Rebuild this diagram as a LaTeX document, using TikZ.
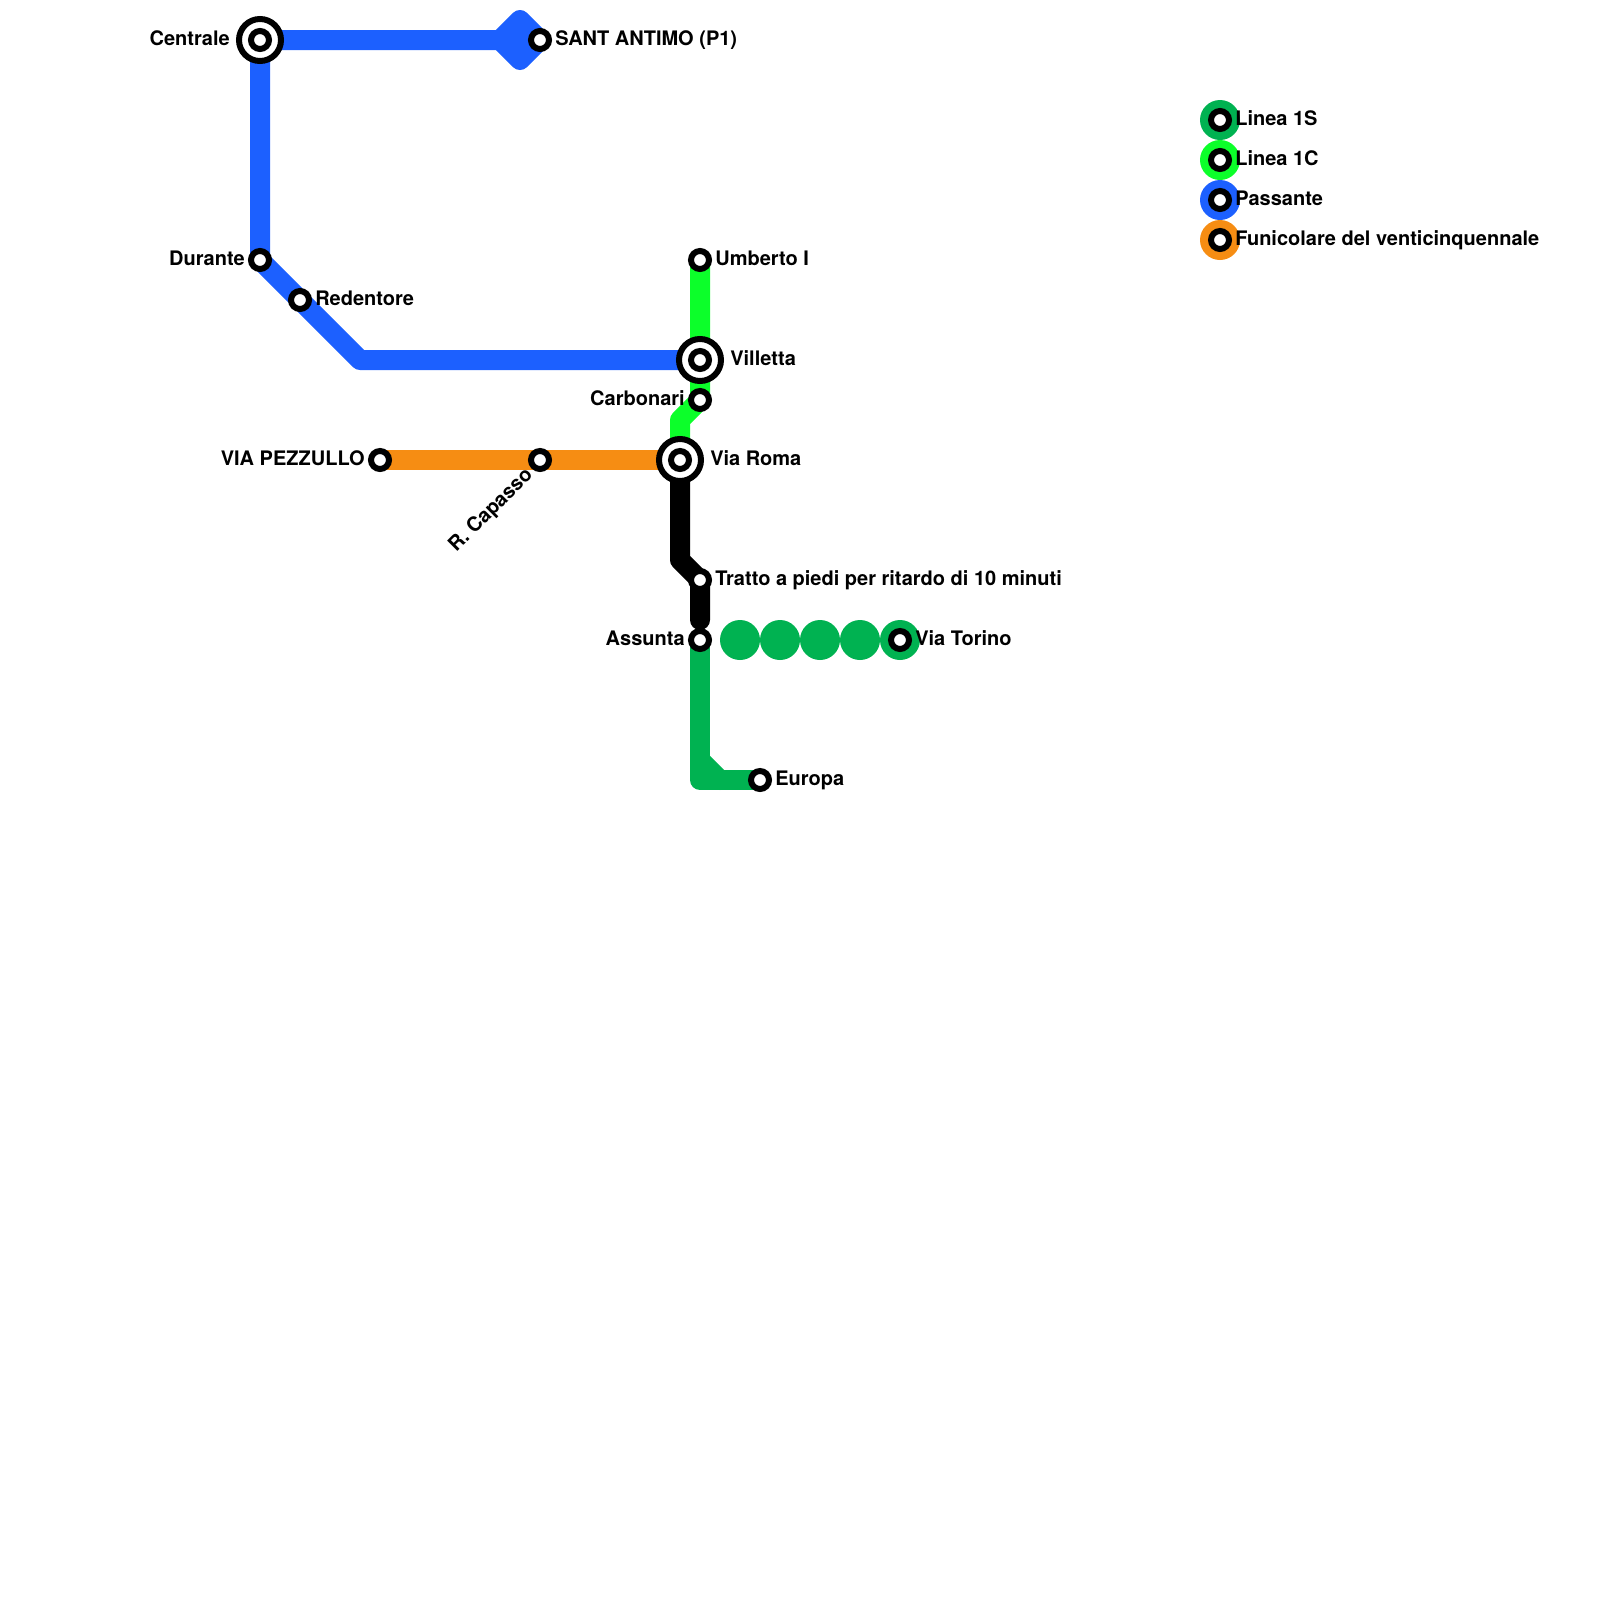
\documentclass[tikz,border=0pt]{standalone}
\usepackage{fontspec}
\setmainfont{TeX Gyre Heros}
\usetikzlibrary{positioning}
\definecolor{passante}{HTML}{1C60FF}
\definecolor{lineaS}{HTML}{00B251}
\definecolor{lineaC}{HTML}{0CFF2A}
\definecolor{funi}{HTML}{F68D13}
\tikzset{
  track/.style={line width=0.5cm,line cap=round,line join=round},
  stn/.style={circle,draw=black,fill=white,line width=0.15cm,minimum size=0.45cm,inner sep=0pt},
  hub/.style={circle,draw=black,fill=white,line width=0.15cm,minimum size=1.05cm,inner sep=0pt},
  lblE/.style={anchor=base west,inner sep=0pt},
  lblW/.style={anchor=base east,inner sep=0pt}
}
\begin{document}
\begin{tikzpicture}[font=\fontsize{14.23}{16}\selectfont\bfseries]
\useasboundingbox (0,0) rectangle (40,-40);
% --- stops and bends
\coordinate (centrale) at (6.5,-1);
\coordinate (antimo) at (13.5,-1);
\coordinate (durante) at (6.5,-6.5);
\coordinate (redentore) at (7.5,-7.5);
\coordinate (bendBlue) at (9,-9);
\coordinate (umberto) at (17.5,-6.5);
\coordinate (villetta) at (17.5,-9);
\coordinate (carbonari) at (17.5,-10);
\coordinate (bendC) at (17,-10.5);
\coordinate (viaroma) at (17,-11.5);
\coordinate (pezzullo) at (9.5,-11.5);
\coordinate (capasso) at (13.5,-11.5);
\coordinate (bendWalk) at (17,-14);
\coordinate (tratto) at (17.5,-14.5);
\coordinate (walkEnd) at (17.5,-15.5);
\coordinate (assunta) at (17.5,-16);
\coordinate (corner) at (17.5,-19.5);
\coordinate (cutA) at (17.5,-19);
\coordinate (cutB) at (18,-19.5);
\coordinate (europa) at (19,-19.5);
\coordinate (torino) at (22.5,-16);
\coordinate (diaL) at (12.5,-1);
\coordinate (diaT) at (13,-0.5);
\coordinate (diaB) at (13,-1.5);
% --- lines
\draw[track,passante] (antimo) -- (centrale) -- (durante) -- (redentore) -- (bendBlue) -- (villetta);
\draw[track,passante] (diaL) -- (diaT) -- (antimo) -- (diaB) -- cycle;
\draw[track,lineaC] (umberto) -- (villetta) -- (carbonari) -- (bendC) -- (viaroma);
\draw[track,funi] (pezzullo) -- (capasso) -- (viaroma);
\draw[track,black] (viaroma) -- (bendWalk) -- (tratto) -- (walkEnd);
\draw[track,lineaS] (assunta) -- (corner) -- (europa);
\draw[track,lineaS] (cutA) -- (cutB);
\foreach \x in {18.5,19.5,20.5,21.5,22.5} {\fill[lineaS] (\x,-16) circle (0.5);}
% --- legend
\foreach \y/\c in {3/lineaS,4/lineaC,5/passante,6/funi} {\fill[\c] (30.5,-\y) circle (0.5); \node[stn] at (30.5,-\y) {};}
% --- stations
\node[hub] (hubCentrale) at (centrale) {};
\node[hub] (hubVilletta) at (villetta) {};
\node[hub] (hubRoma) at (viaroma) {};
\foreach \s in {centrale,antimo,durante,redentore,umberto,villetta,carbonari,viaroma,pezzullo,capasso,tratto,assunta,europa,torino} {\node[stn] at (\s) {};}
% --- labels
\node[lblW] (txtCentrale) at (5.75,-1.125) {Centrale};
\node[lblE] (txtAntimo) at (13.875,-1.125) {SANT ANTIMO (P1)};
\node[lblW] (txtDurante) at (6.125,-6.625) {Durante};
\node[lblE] (txtRedentore) at (7.875,-7.625) {Redentore};
\node[lblE] (txtUmberto) at (17.875,-6.625) {Umberto I};
\node[lblE] (txtVilletta) at (18.25,-9.125) {Villetta};
\node[lblW] (txtCarbonari) at (17.125,-10.125) {Carbonari};
\node[lblE] (txtRoma) at (17.75,-11.625) {Via Roma};
\node[lblW] (txtPezzullo) at (9.125,-11.625) {VIA PEZZULLO};
\node[lblW,rotate=45] (txtCapasso) at (13.34,-11.89) {R. Capasso};
\node[lblE] (txtTratto) at (17.875,-14.625) {Tratto a piedi per ritardo di 10 minuti};
\node[lblW] (txtAssunta) at (17.125,-16.125) {Assunta};
\node[lblE] (txtEuropa) at (19.375,-19.625) {Europa};
\node[lblE] (txtTorino) at (22.875,-16.125) {Via Torino};
\node[lblE] (txtS) at (30.875,-3.125) {Linea 1S};
\node[lblE] (txtC) at (30.875,-4.125) {Linea 1C};
\node[lblE] (txtP) at (30.875,-5.125) {Passante};
\node[lblE] (txtF) at (30.875,-6.125) {Funicolare del venticinquennale};
\end{tikzpicture}
\end{document}
